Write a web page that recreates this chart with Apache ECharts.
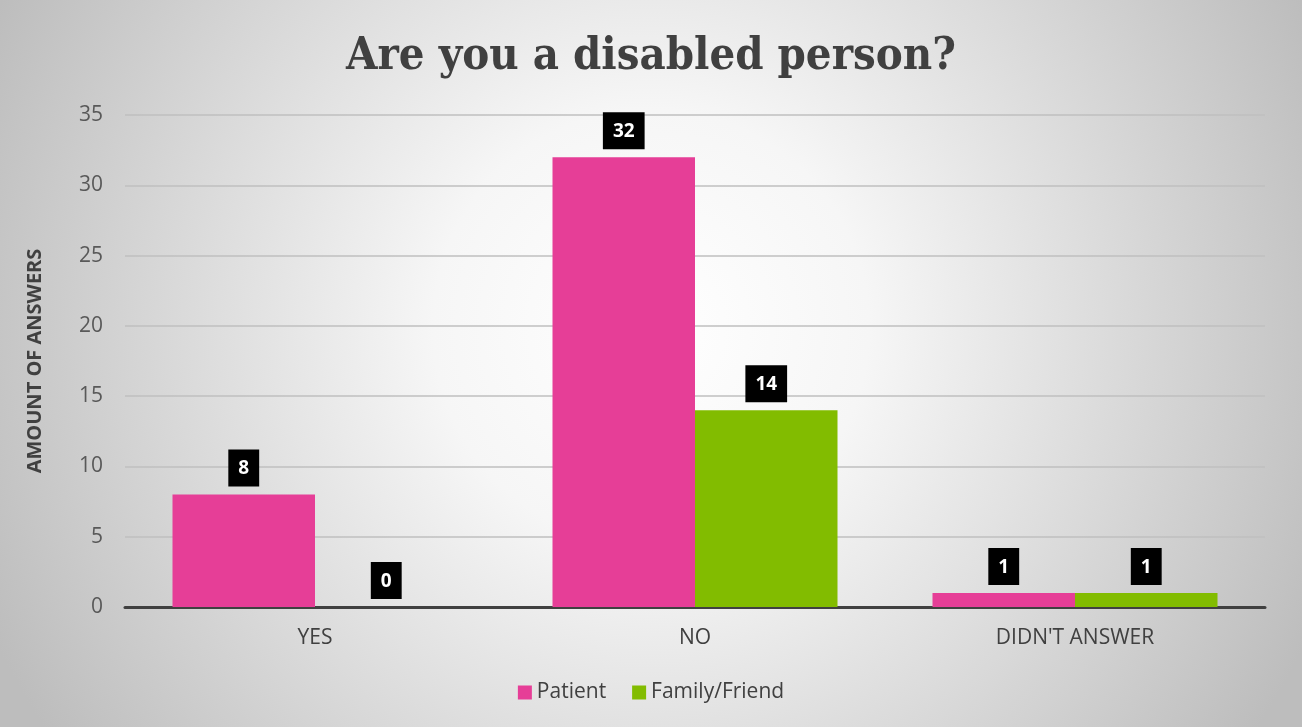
<!DOCTYPE html>
<html><head><meta charset="utf-8">
<script src="https://cdn.jsdelivr.net/npm/echarts@6/dist/echarts.min.js"></script>
<style>html,body{margin:0;padding:0;}#c{width:1302px;height:727px;}</style>
</head><body><div id="c"></div>
<script>
const categories = ["YES", "NO", "DIDN'T ANSWER"];
const patient = [8, 32, 1];
const familyFriend = [0, 14, 1];
const seriesNames = ["Patient", "Family/Friend"];
const yTicks = [0, 5, 10, 15, 20, 25, 30, 35];

const chart = echarts.init(document.getElementById('c'));
const labelStyle = {
  show: true, position: 'top', distance: 8,
  backgroundColor: '#000', color: '#fff', fontWeight: 'bold',
  fontSize: 19, fontFamily: 'Open Sans', padding: [10, 10, 8, 10]
};
chart.setOption({
  backgroundColor: {
    type: 'radial', x: 0.5, y: 0.45, r: 1.0,
    colorStops: [
      {offset: 0, color: '#ffffff'},
      {offset: 0.3, color: '#f6f6f6'},
      {offset: 1, color: '#bdbdbd'}
    ]
  },
  title: {
    text: 'Are you a disabled person?', left: 'center', top: 30,
    textStyle: {fontFamily: 'DejaVu Serif Condensed', fontWeight: 'bold', fontSize: 45, color: '#404040'}
  },
  legend: {
    data: seriesNames, bottom: 19, left: 'center', itemWidth: 14, itemHeight: 14, itemGap: 26,
    icon: 'rect',
    textStyle: {fontFamily: 'Open Sans', fontSize: 21, color: '#404040'}
  },
  grid: {left: 125, right: 37, top: 115, bottom: 120},
  xAxis: {
    type: 'category', data: categories,
    axisLine: {lineStyle: {color: '#404040', width: 3}},
    axisTick: {show: false},
    axisLabel: {fontFamily: 'Open Sans', fontSize: 21, color: '#404040', margin: 21}
  },
  yAxis: {
    type: 'value', min: yTicks[0], max: yTicks[yTicks.length - 1], interval: 5,
    name: 'AMOUNT OF ANSWERS', nameLocation: 'middle', nameGap: 80, nameRotate: 90,
    nameTextStyle: {fontFamily: 'Open Sans', fontWeight: 'bold', fontSize: 20, color: '#404040'},
    axisLine: {show: false}, axisTick: {show: false},
    axisLabel: {fontFamily: 'Open Sans', fontSize: 21, color: '#595959', margin: 22},
    splitLine: {lineStyle: {color: '#bfbfbf', width: 1.5}}
  },
  series: [
    {name: seriesNames[0], type: 'bar', data: patient, barGap: '0%', barCategoryGap: '25%',
     itemStyle: {color: '#e63e97'}, label: labelStyle},
    {name: seriesNames[1], type: 'bar', data: familyFriend, barGap: '0%', barCategoryGap: '25%',
     itemStyle: {color: '#82bc00'}, label: labelStyle}
  ]
});
</script></body></html>
